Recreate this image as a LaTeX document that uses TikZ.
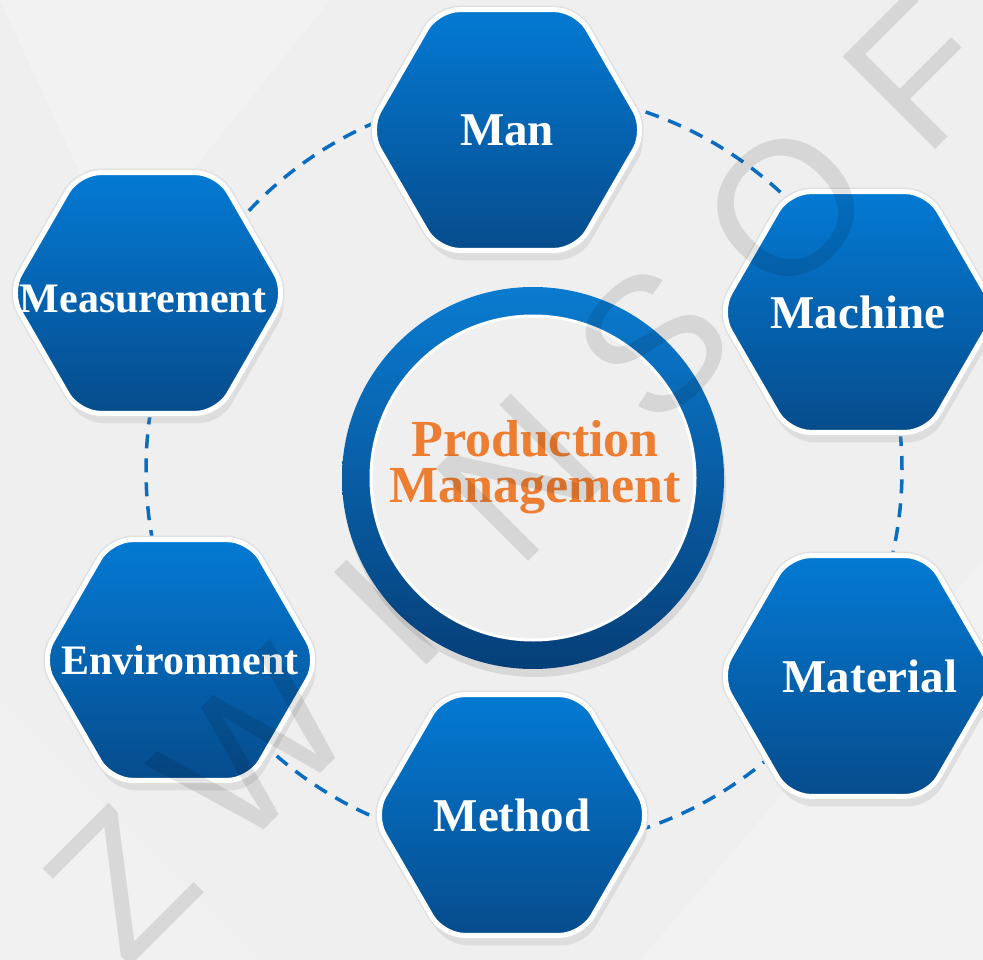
\documentclass[tikz,border=0pt]{standalone}
\usepackage{fontspec}
\setmainfont{Liberation Serif}
\newfontfamily\wmfont{Liberation Sans}
\usetikzlibrary{shapes.geometric, shadows}
\definecolor{hextop}{HTML}{047AD4}
\definecolor{hexbot}{HTML}{064C8C}
\definecolor{ringtop}{HTML}{0A7BD0}
\definecolor{ringbot}{HTML}{063F78}
\definecolor{facegray}{HTML}{EFEFEF}
\definecolor{bggray}{HTML}{EFEFEF}
\definecolor{dashblue}{HTML}{0B6DC0}
\definecolor{titleorange}{HTML}{ED7D31}

\begin{document}
\begin{tikzpicture}[x=1pt, y=-1pt,
  hex/.style={regular polygon, regular polygon sides=6,
    minimum size=278pt, inner sep=0pt, rounded corners=22pt,
    drop shadow={opacity=0.16, shadow xshift=3pt, shadow yshift=-10pt},
    preaction={draw=black!12, line width=8pt},
    top color=hextop, bottom color=hexbot, draw=white, line width=5pt},
  hexlabel/.style={text=white, inner sep=0pt, font=\bfseries\fontsize{47}{50}\selectfont},
  small/.style={font=\bfseries\fontsize{42}{45}\selectfont},
  hubring/.style={circle, minimum size=382pt, inner sep=0pt,
    drop shadow={opacity=0.2, shadow xshift=2pt, shadow yshift=-8pt},
    top color=ringtop, bottom color=ringbot},
  hubface/.style={circle, minimum size=324pt, inner sep=0pt, fill=facegray,
    draw=white, line width=3pt},
  hubtext/.style={align=center, text=titleorange,
    font=\bfseries\fontsize{52}{46}\selectfont},
  wmark/.style={inner sep=0pt, rotate=45, text=black, text opacity=0.1,
    font=\wmfont\fontsize{190}{190}\selectfont}]

\useasboundingbox (0,0) rectangle (983,960);
\fill[bggray] (0,0) rectangle (983,960);
\fill[white, opacity=0.22] (0,0) -- (330,0) -- (120,260) -- cycle;
\fill[white, opacity=0.2] (983,560) -- (983,960) -- (640,960) -- cycle;
\fill[white, opacity=0.18] (0,700) -- (260,960) -- (0,960) -- cycle;

\coordinate (c) at (524,470);
\draw[dashblue, line width=3.5pt, dash pattern=on 14pt off 10pt] (c) circle [radius=378pt];

\node[hubring] (ring) at (533,478) {};
\node[hubface] (hub) at (ring.center) {};
\node[hubtext] (title) at (535,467) {Production\\Management};

\node[hex, label={[hexlabel]center:Man}] (man) at (507,130) {};
\node[hex, label={[hexlabel]center:Machine}] (machine) at (858,312) {};
\node[hex, label={[hexlabel, xshift=12pt]center:Material}] (material) at (858,676) {};
\node[hex, label={[hexlabel]center:Method}] (method) at (512,815) {};
\node[hex, label={[hexlabel, small]center:Environment}] (environment) at (180,660) {};
\node[hex, label={[hexlabel, small, xshift=-5pt, yshift=-6pt]center:Measurement}] (measurement) at (148,293) {};

\foreach \l [count=\i from 0] in {Z,W,I,N,S,O,F}
  \node[wmark] (wm\l) at (121+133*\i, 883-135*\i) {\l};
\end{tikzpicture}
\end{document}
